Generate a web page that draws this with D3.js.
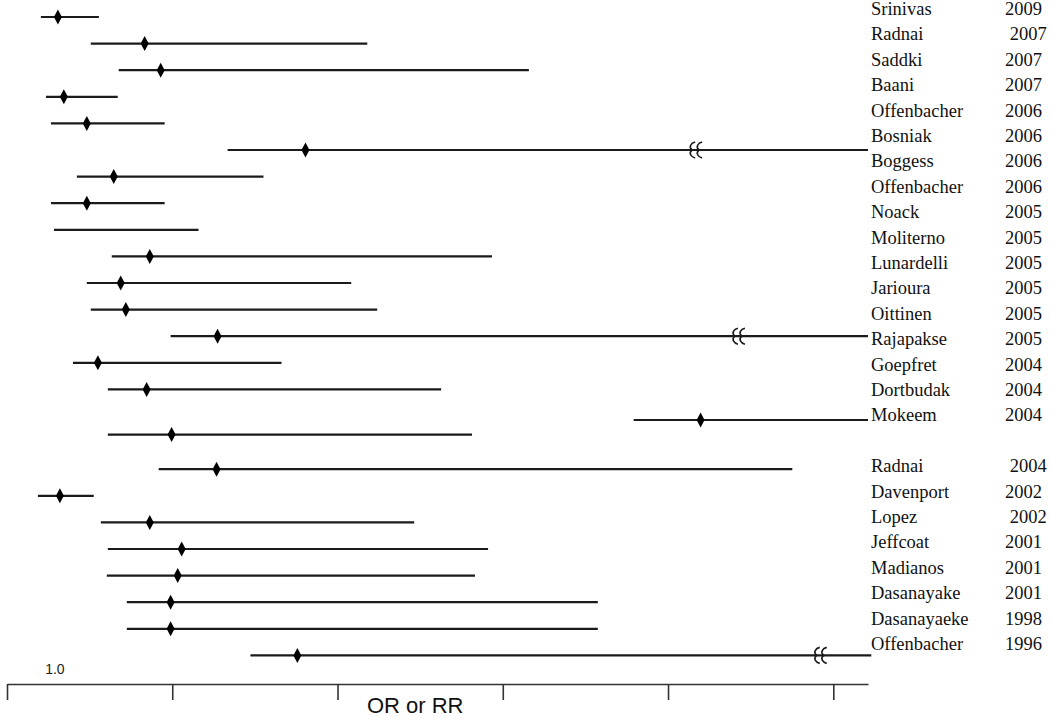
<!DOCTYPE html>
<html>
<head>
<meta charset="utf-8">
<script src="https://cdn.jsdelivr.net/npm/d3@7"></script>
<style>
  html, body { margin: 0; padding: 0; background: #fff; }
  svg { display: block; }
  text { white-space: pre; }
</style>
</head>
<body>
<svg id="chart" width="1050" height="717"></svg>
<script>
// ---- data (effect estimate and CI on the drawn scale) ----
const studyNames = ["Srinivas","Radnai","Saddki","Baani","Offenbacher","Bosniak","Boggess","Offenbacher",
  "Noack","Moliterno","Lunardelli","Jarioura","Oittinen","Rajapakse","Goepfret","Dortbudak","Mokeem",
  "","Radnai","Davenport","Lopez","Jeffcoat","Madianos","Dasanayake","Dasanayaeke","Offenbacher"];
const studyYears = ["2009"," 2007","2007","2007","2006","2006","2006","2006",
  "2005","2005","2005","2005","2005","2005","2004","2004","2004",
  ""," 2004","2002"," 2002","2001","2001","2001","1998","1996"];

const ciRow  = [0,1,2,3,4,5,6,7,8,9,10,11,12,13,14,15.15,15.7,17,18,19,20,21,22,23,24];
const ciLow  = [0.205,0.507,0.676,0.236,0.266,1.335,0.423,0.266,0.284,0.634,0.483,0.507,0.990,0.399,0.610,3.792,0.610,0.918,0.187,0.568,0.610,0.604,0.725,0.725,1.473];
const ciEst  = [0.308,0.833,0.930,0.344,0.483,1.806,0.646,0.483,null,0.864,0.688,0.719,1.274,0.550,0.845,4.197,0.996,1.268,0.320,0.864,1.057,1.033,0.990,0.990,1.757];
const ciHigh = [0.556,2.180,3.158,0.670,0.954,5.21,1.552,0.954,1.159,2.935,2.083,2.240,5.21,1.661,2.627,5.21,2.814,4.752,0.525,2.464,2.911,2.832,3.575,3.575,5.23];

const breakRows = [5, 12, 24];
const breakAt   = [4.167, 4.426, 4.921];

const axisTicks = [0,1,2,3,4,5];
const refLabel = "1.0";
const refLabelAt = 0.29;
const axisTitle = "OR or RR";

// ---- scales ----
const svg = d3.select("#chart");
const x = d3.scaleLinear().domain([0, 5.21]).range([7, 868]);
const y = d3.scaleLinear().domain([0, 24]).range([17, 655.4]);
const yLab = d3.scaleLinear().domain([0, 25]).range([15, 650]);

const ink = "#1b1b1b";

// CI lines
const rows = ciRow.map((r, i) => ({r, lo: ciLow[i], est: ciEst[i], hi: ciHigh[i]}));
svg.append("g").selectAll("line").data(rows).join("line")
  .attr("x1", d => x(d.lo)).attr("x2", d => x(d.hi))
  .attr("y1", d => y(d.r)).attr("y2", d => y(d.r))
  .attr("stroke", ink).attr("stroke-width", 2.2);

// diamonds
svg.append("g").selectAll("path").data(rows.filter(d => d.est != null)).join("path")
  .attr("d", d => {
    const cx = x(d.est), cy = y(d.r);
    return `M${cx},${cy-7.5}L${cx+4},${cy}L${cx},${cy+7.5}L${cx-4},${cy}Z`;
  })
  .attr("fill", "#000");

// break marks
const brk = breakRows.map((r, i) => ({r, v: breakAt[i]}));
const bg = svg.append("g").selectAll("g").data(brk).join("g")
  .attr("transform", d => `translate(${x(d.v)},${y(d.r)})`);
[-3.5, 3.5].forEach(off => {
  bg.append("path")
    .attr("d", `M${off+3},-8 C${off-1},-7 ${off-4},-3 ${off},0 C${off-4},3 ${off-1},7 ${off+3},8`)
    .attr("fill", "none").attr("stroke", ink).attr("stroke-width", 1.6);
});

// labels
const labG = svg.append("g")
  .style("font-family", "'Liberation Serif','Times New Roman',serif")
  .style("font-size", "18.5px").attr("fill", "#111");
labG.selectAll("text.name").data(studyNames).join("text").attr("class","name")
  .attr("x", 871).attr("y", (d, i) => yLab(i)).text(d => d);
labG.selectAll("text.year").data(studyYears).join("text").attr("class","year")
  .attr("x", 1005).attr("y", (d, i) => yLab(i)).text(d => d);

// axis
const axisY = 684;
const axisG = svg.append("g").attr("transform", `translate(0,${axisY})`)
  .call(d3.axisBottom(x).tickValues(axisTicks).tickSize(16).tickSizeOuter(0).tickFormat(""));
axisG.select(".domain").attr("stroke", "#333").attr("stroke-width", 1.6);
axisG.selectAll(".tick line").attr("stroke", "#333").attr("stroke-width", 1.6);

svg.append("text").attr("x", x(refLabelAt)).attr("y", 674)
  .attr("text-anchor", "middle")
  .style("font-family", "'Liberation Sans',Arial,sans-serif").style("font-size", "14px")
  .attr("fill", "#222").text(refLabel);

svg.append("text").attr("x", x(2.47)).attr("y", 713)
  .attr("text-anchor", "middle")
  .style("font-family", "'Liberation Sans',Arial,sans-serif").style("font-size", "22px")
  .attr("fill", "#111").text(axisTitle);
</script>
</body>
</html>
